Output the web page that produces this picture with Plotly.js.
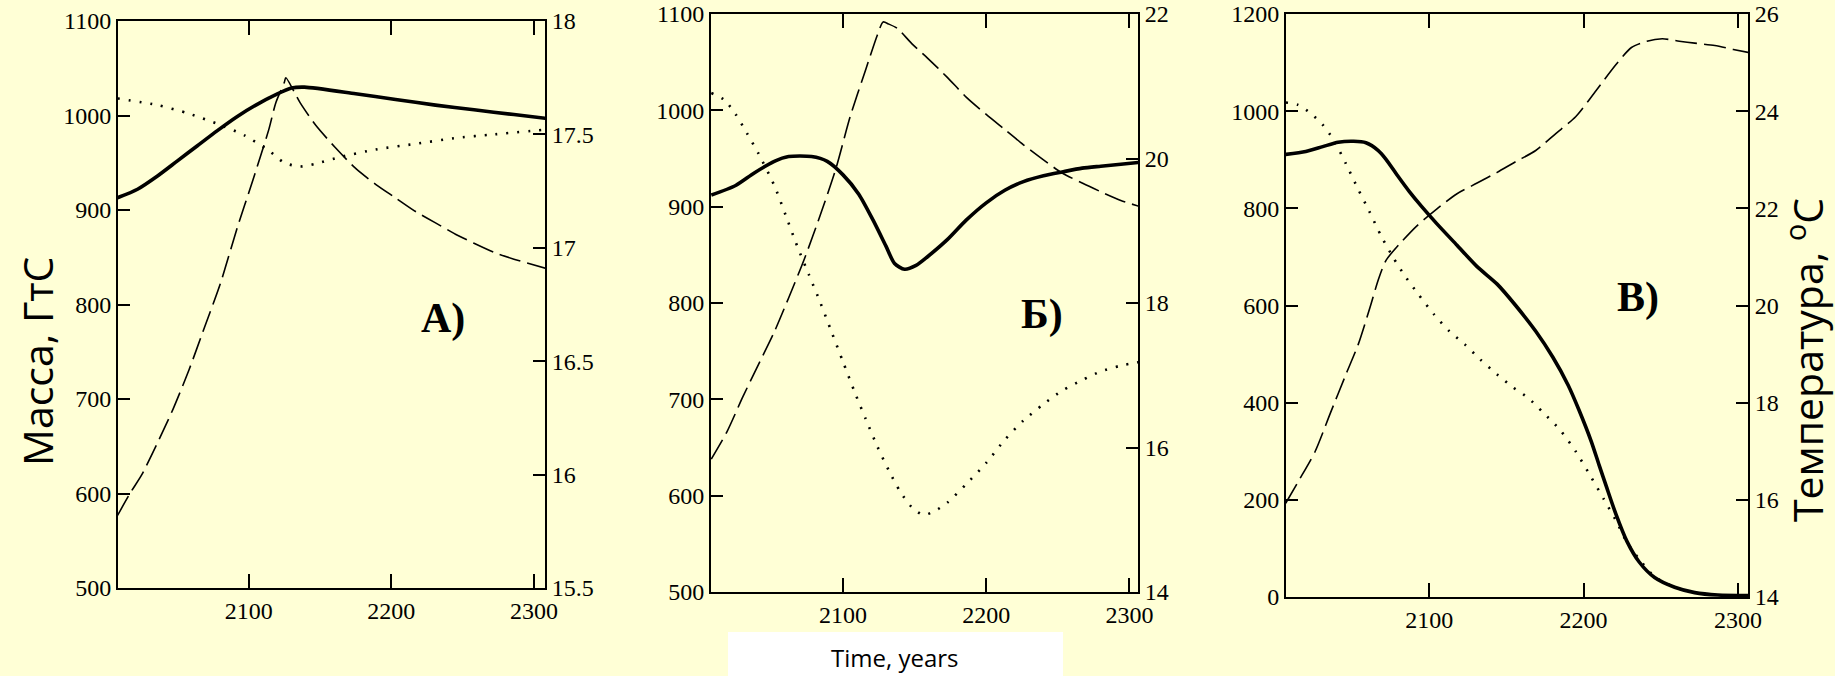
<!DOCTYPE html>
<html><head><meta charset="utf-8">
<script src="https://cdn.plot.ly/plotly-3.0.1.min.js"></script>
<style>html,body{margin:0;padding:0;background:#FFFFD6;} #chart{width:1835px;height:676px;}</style>
</head><body><div id="chart"></div>
<script>
// ---------- Panel A ----------
const yearsA_solid = [2008,2022,2036,2050,2064,2078,2092,2105,2119,2130,2139,2175,2203,2231,2258,2286,2308];
const massA_solid  = [913,922,936,952,968,984,999,1011,1022,1029,1030,1023,1017,1011,1006,1001,997];
const yearsA_dot   = [2008,2036,2058,2080,2097,2114,2125,2136,2147,2164,2189,2217,2244,2272,2308];
const massA_dot    = [1018,1011,1002,990,979,963,950,946,949,956,964,970,976,980,985];
const yearsA_dash  = [2008,2017,2025,2036,2047,2058,2069,2080,2092,2103,2114,2119,2125,2126,2136,2147,2161,2175,2189,2203,2217,2231,2245,2258,2272,2286,2308];
const tempA_dash   = [15.82,15.92,16.00,16.14,16.29,16.46,16.65,16.84,17.09,17.30,17.52,17.64,17.73,17.75,17.64,17.54,17.44,17.35,17.28,17.22,17.16,17.11,17.06,17.02,16.98,16.95,16.91];

// ---------- Panel Б ----------
const yearsB_solid = [2008,2025,2038,2052,2062,2078,2089,2100,2111,2121,2130,2136,2143,2151,2159,2173,2186,2200,2213,2226,2240,2253,2267,2280,2294,2307];
const massB_solid  = [912,922,935,947,952,952,947,933,913,886,859,841,835,839,848,866,886,904,917,926,932,936,940,942,944,946];
const yearsB_dot   = [2008,2017,2025,2033,2041,2052,2060,2068,2076,2084,2092,2100,2108,2116,2124,2132,2140,2148,2156,2164,2173,2186,2200,2213,2226,2240,2253,2267,2280,2294,2308];
const massB_dot    = [1018,1011,996,976,955,922,891,859,830,801,770,739,708,679,651,626,604,588,580,584,593,612,634,658,678,695,709,720,729,735,739];
const yearsB_dash  = [2008,2019,2030,2041,2052,2062,2073,2084,2095,2105,2116,2124,2128,2132,2138,2148,2159,2173,2186,2200,2213,2226,2240,2253,2267,2280,2294,2308];
const tempB_dash   = [15.84,16.22,16.70,17.15,17.60,18.07,18.61,19.21,19.86,20.58,21.24,21.71,21.89,21.86,21.80,21.59,21.39,21.12,20.85,20.61,20.40,20.19,19.98,19.80,19.66,19.54,19.42,19.33];

// ---------- Panel В ----------
const yearsC_solid = [2007,2020,2031,2041,2051,2059,2067,2072,2080,2087,2095,2105,2118,2131,2144,2156,2169,2180,2190,2197,2205,2210,2215,2221,2228,2236,2246,2259,2272,2287,2307];
const massC_solid  = [911,917,927,936,938,935,919,901,865,835,804,768,724,680,644,600,547,494,436,385,320,272,225,170,115,72,40,20,9,4,3];
const yearsC_dot   = [2007,2015,2023,2031,2038,2046,2054,2061,2069,2077,2084,2092,2103,2113,2123,2133,2144,2154,2164,2174,2185,2195,2205,2213,2221,2228,2236,2246,2259,2272,2287,2307];
const massC_dot    = [1018,1013,996,972,941,892,839,795,742,697,662,627,582,547,520,489,458,432,410,379,343,299,246,202,157,113,78,42,20,9,4,3];
const yearsC_dash  = [2007,2015,2026,2036,2046,2054,2062,2067,2072,2080,2092,2105,2118,2131,2144,2156,2169,2182,2195,2208,2221,2231,2241,2251,2262,2272,2285,2297,2308];
const tempC_dash   = [15.93,16.37,16.99,17.79,18.58,19.20,20.00,20.53,20.93,21.24,21.64,21.99,22.30,22.52,22.74,22.96,23.19,23.54,23.89,24.42,24.96,25.31,25.44,25.49,25.44,25.40,25.35,25.27,25.20];

// ---------- Labels ----------
const panelLabels = ['A)', 'Б)', 'В)'];
const leftTitle = 'Масса, ГтС';
const rightTitle = 'Температура, <sup>o</sup>C';
const xTitle = 'Time, years';

const BG = '#FFFFD6';
const W = 1835, H = 676;
const px = v => v / W;
const py = v => 1 - v / H;

const solidStyle = {color:'black', width:3.6, shape:'spline', smoothing:0.7};
const dotStyle   = {color:'black', width:2.6, dash:'2px,9px', shape:'spline', smoothing:0.7};
const dashStyle  = {color:'black', width:1.6, dash:'22px,7px', shape:'spline', smoothing:0.7};

function tr(x, y, xa, ya, line) {
  return {x:x, y:y, xaxis:xa, yaxis:ya, type:'scatter', mode:'lines', line:line, hoverinfo:'skip', showlegend:false};
}

const data = [
  tr(yearsA_solid, massA_solid, 'x', 'y', solidStyle),
  tr(yearsA_dot, massA_dot, 'x', 'y', dotStyle),
  tr(yearsA_dash, tempA_dash, 'x', 'y2', dashStyle),
  tr(yearsB_solid, massB_solid, 'x2', 'y3', solidStyle),
  tr(yearsB_dot, massB_dot, 'x2', 'y3', dotStyle),
  tr(yearsB_dash, tempB_dash, 'x2', 'y4', dashStyle),
  tr(yearsC_solid, massC_solid, 'x3', 'y5', solidStyle),
  tr(yearsC_dot, massC_dot, 'x3', 'y5', dotStyle),
  tr(yearsC_dash, tempC_dash, 'x3', 'y6', dashStyle)
];

const tickFont = {family:'Liberation Serif, Times New Roman, serif', size:24, color:'black'};

function xax(l, r, range, anchor) {
  return {domain:[px(l), px(r)], anchor:anchor, range:range, tick0:2000, dtick:100,
    ticks:'inside', ticklen:14, tickwidth:2, tickcolor:'black',
    showline:true, linewidth:2, linecolor:'black', mirror:'ticks',
    showgrid:false, zeroline:false, tickfont:tickFont};
}
function yleft(t, b, range, dtick, anchor) {
  return {domain:[py(b), py(t)], anchor:anchor, range:range, dtick:dtick,
    ticks:'inside', ticklen:12, tickwidth:2, tickcolor:'black',
    showline:true, linewidth:2, linecolor:'black', showgrid:false, zeroline:false,
    tickfont:tickFont};
}
function yright(over, range, dtick, anchor) {
  return {overlaying:over, side:'right', anchor:anchor, range:range, dtick:dtick,
    ticks:'inside', ticklen:12, tickwidth:2, tickcolor:'black',
    showline:true, linewidth:2, linecolor:'black', showgrid:false, zeroline:false,
    tickfont:tickFont};
}

const labelFont = {family:'Liberation Serif, Times New Roman, serif', size:42, color:'black'};
const sansFont = {family:'Open Sans, Noto Sans, sans-serif', size:41, color:'black'};

function ann(text, x, y, font, angle) {
  return {text:text, xref:'paper', yref:'paper', x:px(x), y:py(y), xanchor:'center', yanchor:'middle',
          showarrow:false, font:font, textangle:angle || 0};
}

const layout = {
  width:W, height:H,
  margin:{l:0, r:0, t:0, b:0},
  paper_bgcolor:BG, plot_bgcolor:BG,
  showlegend:false,
  xaxis:  xax(118, 545, [2008.3, 2307.8], 'y'),
  yaxis:  yleft(21, 588, [500, 1100], 100, 'x'),
  yaxis2: yright('y', [15.5, 18], 0.5, 'x'),
  xaxis2: xax(711, 1138, [2007.8, 2306], 'y3'),
  yaxis3: yleft(14, 592, [500, 1100], 100, 'x2'),
  yaxis4: yright('y3', [14, 22], 2, 'x2'),
  xaxis3: xax(1286, 1748, [2007.2, 2306.5], 'y5'),
  yaxis5: yleft(14, 597, [0, 1200], 200, 'x3'),
  yaxis6: yright('y5', [14, 26], 2, 'x3'),
  shapes: [
    {type:'rect', xref:'paper', yref:'paper', x0:px(728), x1:px(1063), y0:0, y1:py(632),
     fillcolor:'white', line:{width:0}, layer:'below'}
  ],
  annotations: [
    ann('<b>'+panelLabels[0]+'</b>', 443, 318, labelFont),
    ann('<b>'+panelLabels[1]+'</b>', 1042, 314, labelFont),
    ann('<b>'+panelLabels[2]+'</b>', 1638, 297, labelFont),
    ann(leftTitle, 37, 362, sansFont, -90),
    ann(rightTitle, 1805, 360, sansFont, -90),
    ann(xTitle, 895, 657, {family:'Open Sans, Noto Sans, sans-serif', size:24, color:'black'})
  ]
};

Plotly.newPlot('chart', data, layout, {staticPlot:true, displayModeBar:false});
</script>
</body></html>
